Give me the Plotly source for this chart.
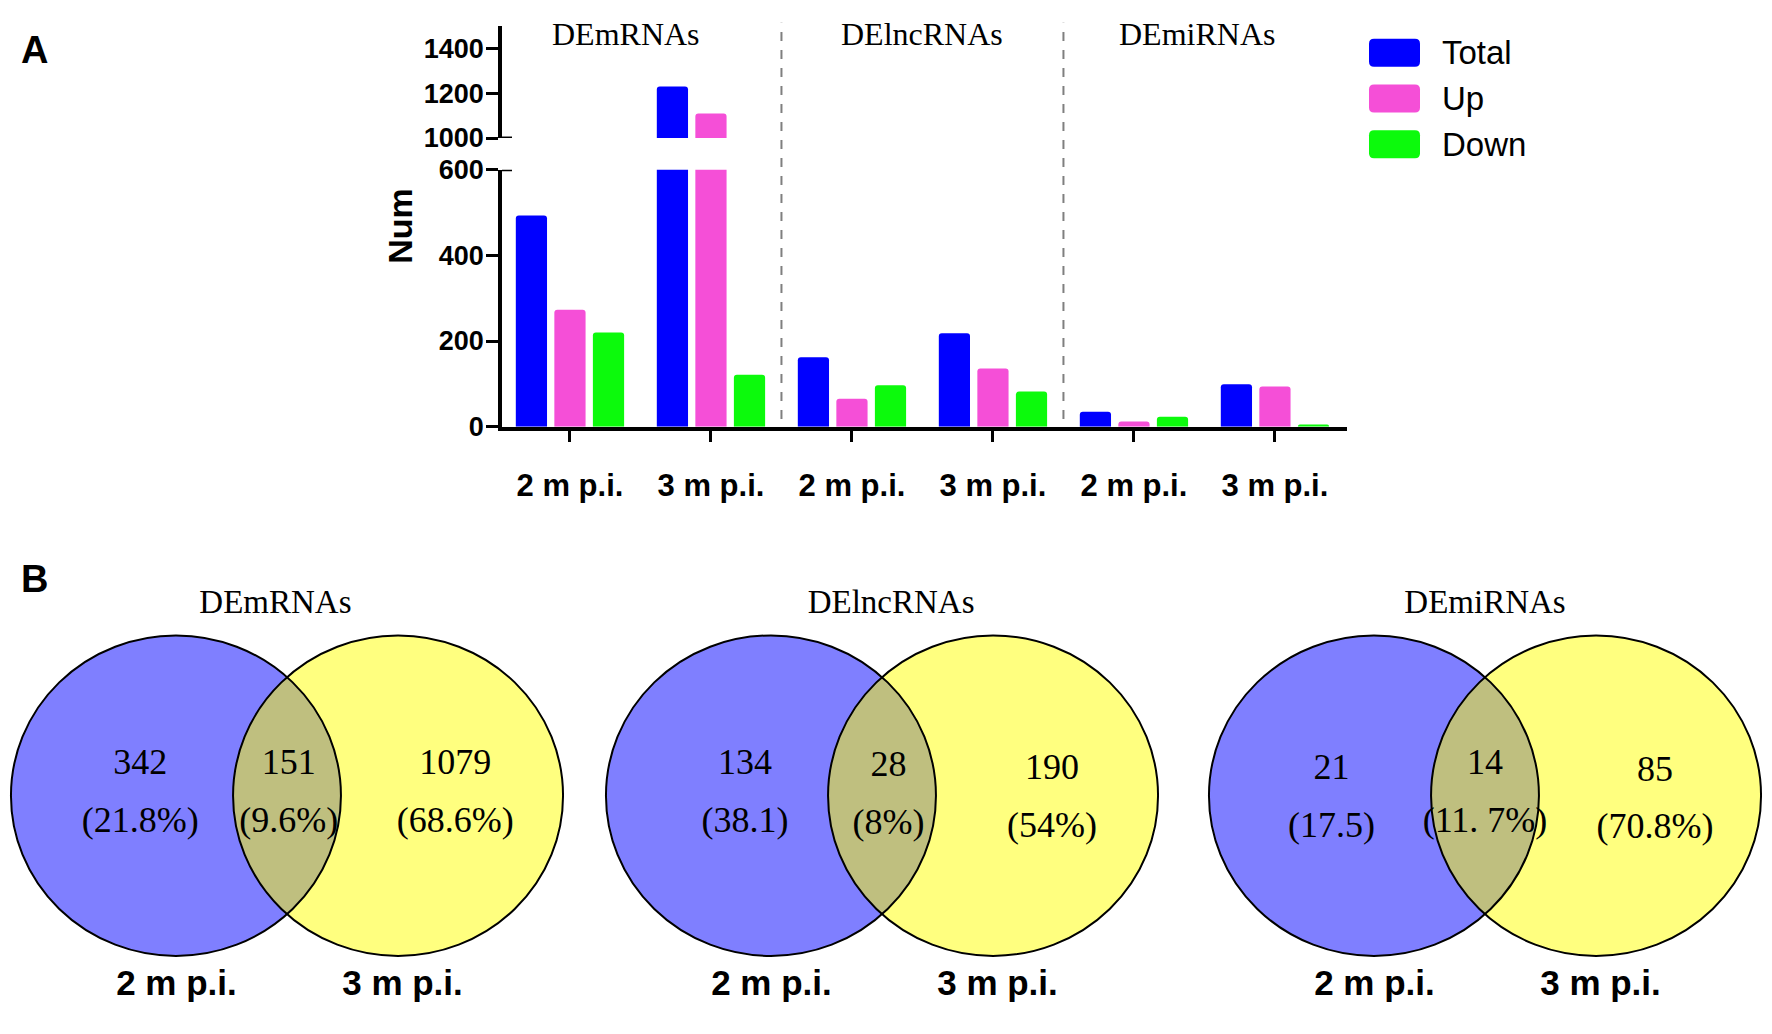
import numpy as np
import plotly.graph_objects as go

W, H = 1772, 1034

# A: number of differentially expressed RNAs per time point
groups = ["DEmRNAs", "DElncRNAs", "DEmiRNAs"]
timepoints = ["2 m p.i.", "3 m p.i."]
tick_labels = timepoints * 3
total = [493, 1230, 162, 218, 35, 99]
up = [273, 1109, 65, 136, 12, 94]
down = [220, 121, 97, 82, 23, 5]

# B: overlap between 2 m and 3 m p.i.
only_2m = [342, 134, 21]
shared = [151, 28, 14]
only_3m = [1079, 190, 85]
pct_2m = ["(21.8%)", "(38.1)", "(17.5)"]
pct_shared = ["(9.6%)", "(8%)", "(11. 7%)"]
pct_3m = ["(68.6%)", "(54%)", "(70.8%)"]

colors = {"Total": "#0000FF", "Up": "#F54FD7", "Down": "#0CFA0C"}
series = {"Total": total, "Up": up, "Down": down}

SANS = "Liberation Sans, Arial, sans-serif"
SERIF = "Liberation Serif, Times New Roman, serif"


def px(x):
    return x / W


def py(y):
    return 1 - y / H


fig = go.Figure()

# bars, drawn twice: lower segment (0-600) and upper segment (1000-1500)
xs = list(range(len(tick_labels)))
for yax in ["y", "y2"]:
    for name, vals in series.items():
        fig.add_trace(go.Bar(
            x=xs, y=vals, name=name, xaxis="x", yaxis=yax,
            marker=dict(color=colors[name], line_width=0, cornerradius=3),
            showlegend=False, hoverinfo="skip"))

tickfont = dict(family=SANS, size=27, color="black", weight="bold")
axis_common = dict(showline=True, linewidth=3.5, linecolor="black", ticks="outside",
                   ticklen=12, tickwidth=3, tickcolor="black", showgrid=False,
                   zeroline=False, tickfont=tickfont, fixedrange=True)

x_lo, x_hi = -0.482, 5.511
layout = dict(
    width=W, height=H, margin=dict(l=0, r=0, t=0, b=0),
    paper_bgcolor="white", plot_bgcolor="rgba(0,0,0,0)",
    barmode="group", bargap=0.18, bargroupgap=0.19, showlegend=False,
    xaxis=dict(domain=[px(502), px(1347)], range=[x_lo, x_hi], tickvals=xs,
               ticktext=tick_labels, anchor="y", ticklabelstandoff=16,
               **{**axis_common, "tickfont": dict(family=SANS, size=31, color="black", weight="bold")}),
    yaxis=dict(domain=[py(424), py(159.3)], range=[0, 600], tickvals=[0, 200, 400, 600],
               anchor="x", ticklabelstandoff=-3, **axis_common),
    yaxis2=dict(domain=[py(126.7), py(11.2)], range=[1000, 1500],
                tickvals=[1000, 1200, 1400], anchor="x", ticklabelstandoff=-3, **axis_common),
)

# venn panels: circles of radius 1, centres at +-half_d
mids = [287, 882, 1485]
half_d = 0.673
for k in range(3):
    layout[f"xaxis{k + 2}"] = dict(domain=[px(mids[k] - 280.5), px(mids[k] + 280.5)],
                                   range=[-1.7, 1.7], visible=False, anchor=f"y{k + 3}",
                                   fixedrange=True)
    layout[f"yaxis{k + 3}"] = dict(domain=[py(1018.5), py(589.5)], range=[-1.3, 1.3],
                                   visible=False, anchor=f"x{k + 2}", fixedrange=True)

fig.update_layout(**layout)

shapes = []
# dashed separators between RNA types
for xv in [1.5, 3.5]:
    shapes.append(dict(type="line", xref="x", yref="paper", x0=xv, x1=xv,
                       y0=py(416), y1=py(8), line=dict(color="#7F7F7F", width=2, dash="dash")))
# axis break marks
for yref, yv in [("y", 600), ("y2", 1000)]:
    shapes.append(dict(type="line", xref="x", yref=yref, xsizemode="pixel", xanchor=x_lo,
                       x0=0, x1=10, y0=yv, y1=yv, line=dict(color="black", width=3)))

for k in range(3):
    xr, yr = f"x{k + 2}", f"y{k + 3}"
    for cx, fill in [(-half_d, "rgba(0,0,255,0.5)"), (half_d, "rgba(255,255,0,0.5)")]:
        shapes.append(dict(type="circle", xref=xr, yref=yr, x0=cx - 1, x1=cx + 1, y0=-1, y1=1,
                           fillcolor=fill, line_width=0, layer="below"))
    for cx in [-half_d, half_d]:
        shapes.append(dict(type="circle", xref=xr, yref=yr, x0=cx - 1, x1=cx + 1, y0=-1, y1=1,
                           fillcolor="rgba(0,0,0,0)", line=dict(color="black", width=2)))

# legend swatches (rounded boxes)
sw, sh, rr = 51, 28, 5
box = (f"M {-sw/2 + rr},{-sh/2} L {sw/2 - rr},{-sh/2} Q {sw/2},{-sh/2} {sw/2},{-sh/2 + rr} "
       f"L {sw/2},{sh/2 - rr} Q {sw/2},{sh/2} {sw/2 - rr},{sh/2} L {-sw/2 + rr},{sh/2} "
       f"Q {-sw/2},{sh/2} {-sw/2},{sh/2 - rr} L {-sw/2},{-sh/2 + rr} Q {-sw/2},{-sh/2} {-sw/2 + rr},{-sh/2} Z")
annotations = []
for i, name in enumerate(series):
    yc = 39 + 47 * i
    shapes.append(dict(type="path", path=box, xref="paper", yref="paper",
                       xsizemode="pixel", ysizemode="pixel", xanchor=px(1394.5), yanchor=py(yc),
                       fillcolor=colors[name], line_width=0))
    annotations.append(dict(text=name, x=px(1440), y=py(yc), xref="paper", yref="paper",
                            xanchor="left", yanchor="middle", showarrow=False,
                            font=dict(family=SANS, size=33, color="black")))

# group labels over the bars
for g, xv in zip(groups, [0.4, 2.5, 4.45]):
    annotations.append(dict(text=g, x=xv, y=py(20), xref="x", yref="paper", showarrow=False,
                            xanchor="center", yanchor="middle",
                            font=dict(family=SERIF, size=32, color="black")))

annotations.append(dict(text="Num", x=px(400), y=py(217), xref="paper", yref="paper",
                        textangle=-90, showarrow=False, xanchor="center", yanchor="middle",
                        font=dict(family=SANS, size=34, color="black", weight="bold")))
for letter, yv in [("A", 36), ("B", 581)]:
    annotations.append(dict(text=letter, x=px(34), y=py(yv), xref="paper", yref="paper",
                            showarrow=False, xanchor="center", yanchor="middle",
                            font=dict(family=SANS, size=38, color="black", weight="bold")))

fig.update_layout(shapes=shapes, annotations=annotations)

# venn texts through each panel's axes (positions in circle-radius units)
label_x = [[-0.89, 0.01, 1.02], [-0.83, 0.04, 1.03], [-0.93, 0.0, 1.03]]
count_y = [[0.19, 0.19, 0.19], [0.19, 0.18, 0.16], [0.16, 0.19, 0.15]]
title_x = [-0.07, 0.055, 0.0]
for k in range(3):
    xr, yr = f"x{k + 2}", f"y{k + 3}"
    fig.add_trace(go.Scatter(
        x=label_x[k], y=count_y[k], text=[str(only_2m[k]), str(shared[k]), str(only_3m[k])],
        mode="text", textfont=dict(family=SERIF, size=36, color="black"),
        xaxis=xr, yaxis=yr, showlegend=False, hoverinfo="skip", cliponaxis=False))
    fig.add_trace(go.Scatter(
        x=label_x[k], y=[v - 0.36 for v in count_y[k]],
        text=[pct_2m[k], pct_shared[k], pct_3m[k]],
        mode="text", textfont=dict(family=SERIF, size=36, color="black"),
        xaxis=xr, yaxis=yr, showlegend=False, hoverinfo="skip", cliponaxis=False))
    fig.add_trace(go.Scatter(
        x=[title_x[k]], y=[1.19], text=[groups[k]], mode="text",
        textfont=dict(family=SERIF, size=33, color="black"),
        xaxis=xr, yaxis=yr, showlegend=False, hoverinfo="skip", cliponaxis=False))
    fig.add_trace(go.Scatter(
        x=[-0.67, 0.70], y=[-1.19, -1.19], text=timepoints, mode="text",
        textfont=dict(family=SANS, size=35, color="black", weight="bold"),
        xaxis=xr, yaxis=yr, showlegend=False, hoverinfo="skip", cliponaxis=False))

fig.write_html("out.html", config={"displayModeBar": False},
               post_script="document.body.style.margin='0px';document.body.style.overflow='hidden';")
